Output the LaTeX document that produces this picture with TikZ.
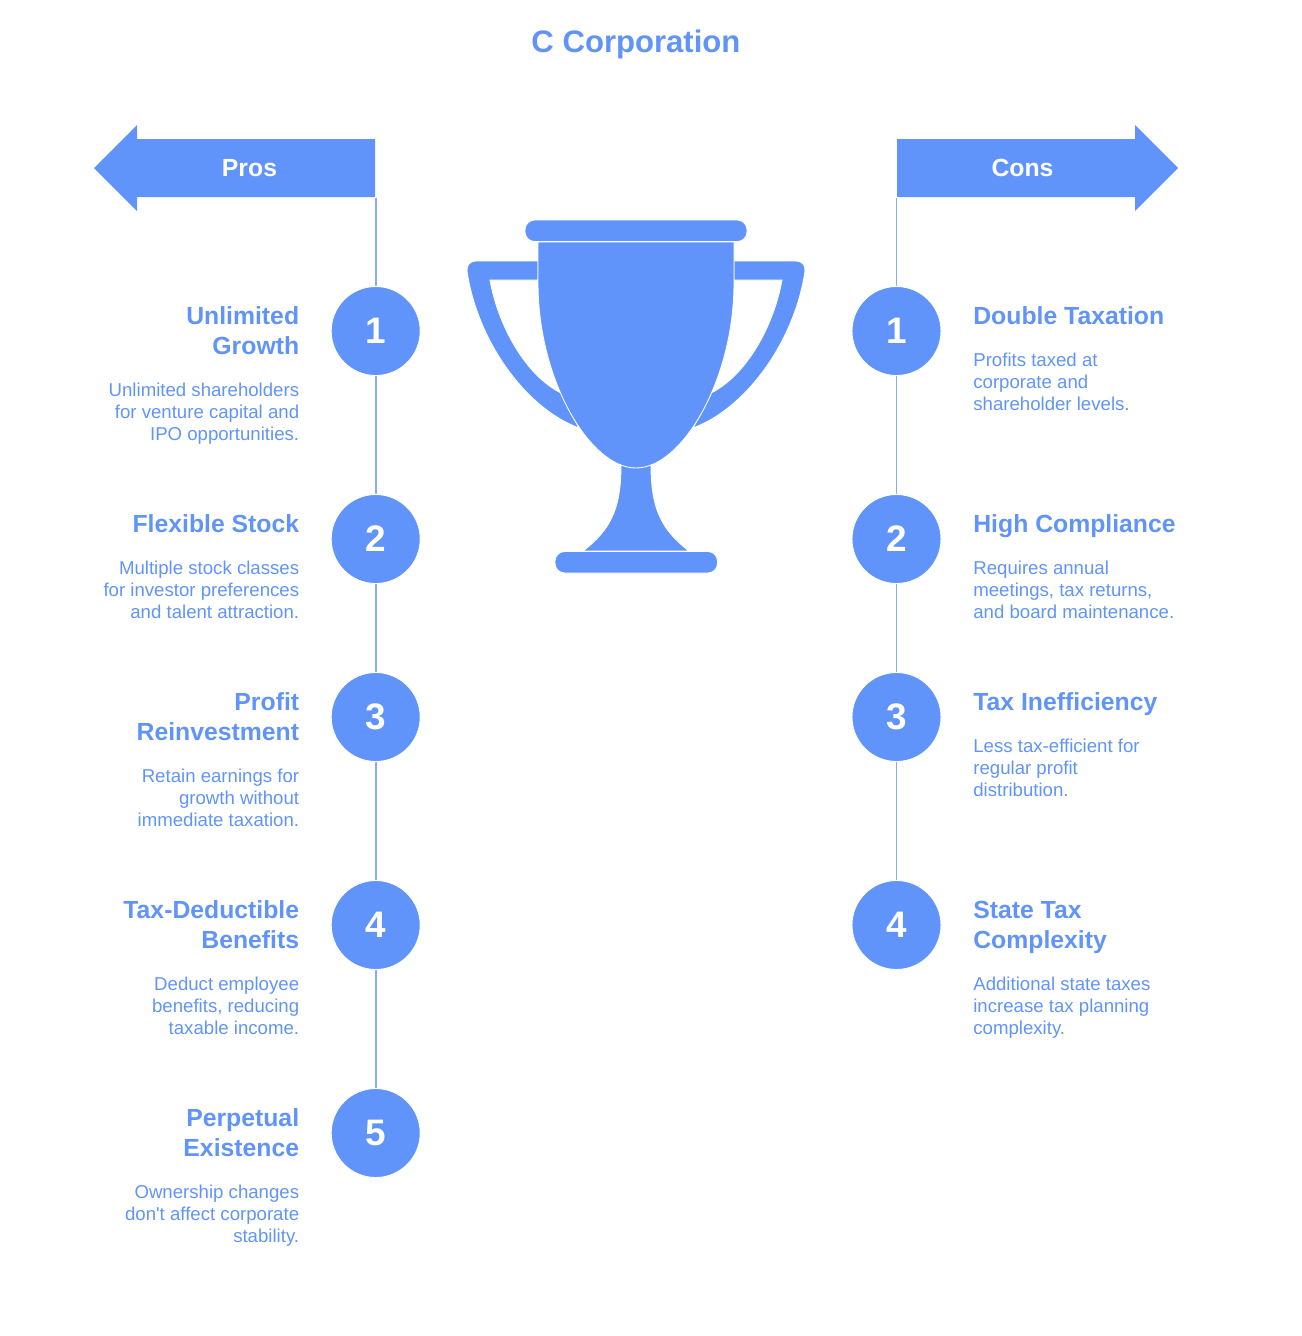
\documentclass[tikz,border=0pt]{standalone}
\usepackage{fontspec}
\setmainfont{Liberation Sans}[Ligatures=TeXOff]
\definecolor{trophyblue}{RGB}{96, 148, 250}
\definecolor{spineblue}{RGB}{135, 172, 250}
\usetikzlibrary{positioning}

\begin{document}
\begin{tikzpicture}[
  x=0.02cm, y=-0.02cm,
  part/.style={fill=trophyblue, draw=white, line width=0.5pt},
  badge/.style={circle, fill=trophyblue, draw=white, line width=0.5pt, minimum size=1.78cm, inner sep=0pt, text=white, font=\fontsize{21}{24}\selectfont\bfseries},
  tabtext/.style={text=white, inner sep=0pt, font=\fontsize{14.1}{17}\selectfont\bfseries},
  headl/.style={anchor=north east, align=right, text=trophyblue, inner sep=0pt, font=\fontsize{14.1}{17}\selectfont\bfseries},
  headr/.style={anchor=north west, align=left, text=trophyblue, inner sep=0pt, font=\fontsize{14.1}{17}\selectfont\bfseries},
  bodyl/.style={anchor=north east, align=right, text=trophyblue, inner sep=0pt, font=\fontsize{10.6}{12.5}\selectfont},
  bodyr/.style={anchor=north west, align=left, text=trophyblue, inner sep=0pt, font=\fontsize{10.6}{12.5}\selectfont},
  spine/.style={draw=spineblue, line width=1.1pt},
]
  \useasboundingbox (0,0) rectangle (1302,1336);
  \node[text=trophyblue, inner sep=0pt, font=\fontsize{17.7}{20}\selectfont\bfseries] (title) at (636, 44) {C Corporation};

  % arrows
  \fill[trophyblue] (375,139) -- (137,139) -- (137,125) -- (94,168) -- (137,211) -- (137,197) -- (375,197) -- cycle;
  \fill[trophyblue] (897,139) -- (1135,139) -- (1135,125) -- (1178,168) -- (1135,211) -- (1135,197) -- (897,197) -- cycle;
  \node[tabtext] (pros) at (249.5, 168) {Pros};
  \node[tabtext] (cons) at (1022.5, 168) {Cons};
  \coordinate (prosfoot) at (375.7, 198);
  \coordinate (consfoot) at (896.5, 198);

  % trophy
  \path[part] (538,261) -- (476,261) .. controls (470,261) and (466.5,265) .. (467,271) .. controls (477,340) and (525,408) .. (579,428) -- (561,393) .. controls (525,375) and (498,325) .. (490,280) -- (538,280) -- cycle;
  \path[part] (734,261) -- (796,261) .. controls (802,261) and (805.5,265) .. (805,271) .. controls (795,340) and (747,408) .. (693,428) -- (711,393) .. controls (747,375) and (774,325) .. (782,280) -- (734,280) -- cycle;
  \path[part] (621,465) .. controls (621,510) and (610,530) .. (583,551) -- (689,551) .. controls (662,530) and (651,510) .. (651,465) -- cycle;
  \path[part] (538,242) -- (734,242) -- (734,283) .. controls (734,380) and (682,468) .. (636,468) .. controls (590,468) and (538,380) .. (538,283) -- cycle;
  \path[part, rounded corners=5.5pt] (525,220) rectangle (747,241.5);
  \path[part, rounded corners=5.5pt] (555,551.5) rectangle (717.5,573);

  % pros side
  \node[badge] (p1) at (375.7, 331) {1};
  \node[badge] (p2) at (375.7, 539) {2};
  \node[badge] (p3) at (375.7, 717) {3};
  \node[badge] (p4) at (375.7, 925) {4};
  \node[badge] (p5) at (375.7, 1133) {5};
  \draw[spine] (prosfoot) -- (p1);
  \draw[spine] (p1) -- (p2);
  \draw[spine] (p2) -- (p3);
  \draw[spine] (p3) -- (p4);
  \draw[spine] (p4) -- (p5);

  \node[headl] (ph1) at (299.5, 306) {Unlimited\\Growth};
  \node[bodyl] (pb1) at (299.5, 383) {Unlimited shareholders\\for venture capital and\\IPO opportunities.};
  \node[headl] (ph2) at (299.5, 514) {Flexible Stock};
  \node[bodyl] (pb2) at (299.5, 561) {Multiple stock classes\\for investor preferences\\and talent attraction.};
  \node[headl] (ph3) at (299.5, 692) {Profit\\Reinvestment};
  \node[bodyl] (pb3) at (299.5, 769) {Retain earnings for\\growth without\\immediate taxation.};
  \node[headl] (ph4) at (299.5, 900) {Tax-Deductible\\Benefits};
  \node[bodyl] (pb4) at (299.5, 977) {Deduct employee\\benefits, reducing\\taxable income.};
  \node[headl] (ph5) at (299.5, 1108) {Perpetual\\Existence};
  \node[bodyl] (pb5) at (299.5, 1185) {Ownership changes\\don't affect corporate\\stability.};

  % cons side
  \node[badge] (c1) at (896.5, 331) {1};
  \node[badge] (c2) at (896.5, 539) {2};
  \node[badge] (c3) at (896.5, 717) {3};
  \node[badge] (c4) at (896.5, 925) {4};
  \draw[spine] (consfoot) -- (c1);
  \draw[spine] (c1) -- (c2);
  \draw[spine] (c2) -- (c3);
  \draw[spine] (c3) -- (c4);

  \node[headr] (ch1) at (973, 306) {Double Taxation};
  \node[bodyr] (cb1) at (973, 353) {Profits taxed at\\corporate and\\shareholder levels.};
  \node[headr] (ch2) at (973, 514) {High Compliance};
  \node[bodyr] (cb2) at (973, 561) {Requires annual\\meetings, tax returns,\\and board maintenance.};
  \node[headr] (ch3) at (973, 692) {Tax Inefficiency};
  \node[bodyr] (cb3) at (973, 739) {Less tax-efficient for\\regular profit\\distribution.};
  \node[headr] (ch4) at (973, 901) {State Tax\\Complexity};
  \node[bodyr] (cb4) at (973, 977) {Additional state taxes\\increase tax planning\\complexity.};
\end{tikzpicture}
\end{document}
